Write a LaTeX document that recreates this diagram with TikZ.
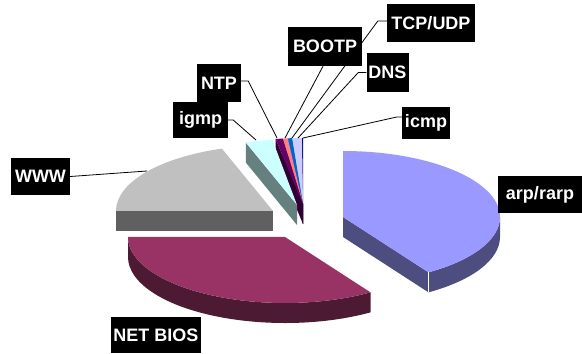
\documentclass[tikz,border=0pt]{standalone}
\usepackage{fontspec}
\setmainfont{Liberation Sans}
\usepackage{tikz}
\usetikzlibrary{positioning, calc}
\definecolor{toparp}{HTML}{9999FF}
\definecolor{sidearp}{HTML}{4D4D80}
\definecolor{topnet}{HTML}{993366}
\definecolor{sidenet}{HTML}{4D1A33}
\definecolor{topwww}{HTML}{C0C0C0}
\definecolor{sidewww}{HTML}{606060}
\definecolor{topigmp}{HTML}{CCFFFF}
\definecolor{sideigmp}{HTML}{668080}
\definecolor{topntp}{HTML}{660066}
\definecolor{sidentp}{HTML}{330033}
\definecolor{topbootp}{HTML}{FF8080}
\definecolor{sidebootp}{HTML}{804040}
\definecolor{toptcp}{HTML}{0066CC}
\definecolor{sidetcp}{HTML}{003366}
\definecolor{topdns}{HTML}{CCCCFF}
\definecolor{sidedns}{HTML}{666680}
\definecolor{topicmp}{HTML}{000080}
\definecolor{sideicmp}{HTML}{000040}

\tikzset{
  rim/.style={x radius=157, y radius=66},
  lbl/.style={fill=black, text=white, font=\bfseries\fontsize{18}{18}\selectfont,
    minimum height=38pt, inner xsep=2pt, inner ysep=0pt},
  leader/.style={draw=black, line width=0.8pt},
}

\begin{document}
\begin{tikzpicture}[x=1pt, y=1pt]
  \useasboundingbox (0,0) rectangle (582,354);
  \fill[white] (0,0) rectangle (582,354);

  %% Slice apexes
  \coordinate (arp) at (343,137);
  \coordinate (netbios) at (285,117);
  \coordinate (www) at (273,143);
  \coordinate (igmp) at (297,149);
  \coordinate (small) at (303,150);

  %% Small slices (back)
  \foreach \s/\e/\nm in {90/90.4/icmp, 90.4/94/dns, 94/95.6/tcp, 95.6/97.4/bootp, 97.4/100/ntp}{
    \fill[side\nm, shift={(small)}] (0,0) -- (\e:157 and 66) -- ++(0,-20) -- (0,-20) -- cycle;
    \fill[top\nm, shift={(small)}] (0,0) -- (\s:157 and 66) arc[start angle=\s, end angle=\e, rim] -- cycle;
  }

  %% igmp
  \fill[sideigmp, shift={(igmp)}] (0,0) -- (109:157 and 66) -- ++(0,-20) -- (0,-20) -- cycle;
  \fill[topigmp, shift={(igmp)}] (0,0) -- (99:157 and 66) arc[start angle=99, end angle=109, rim] -- cycle;

  %% WWW
  \fill[sidewww, shift={(www)}] (0,0) -- (180:157 and 66) -- ++(0,-20) -- (0,-20) -- cycle;
  \fill[topwww, shift={(www)}] (0,0) -- (109:157 and 66) arc[start angle=109, end angle=180, rim] -- cycle;

  %% arp/rarp
  \fill[sidearp, shift={(arp)}] (0,0) -- (-57:157 and 66) -- ++(0,-20) -- (0,-20) -- cycle;
  \fill[sidearp, shift={(arp)}] (-57:157 and 66) arc[start angle=-57, end angle=0, rim]
    -- ++(0,-20) arc[start angle=0, end angle=-57, rim] -- cycle;
  \fill[toparp, shift={(arp)}] (0,0) -- (-57:157 and 66) arc[start angle=-57, end angle=90, rim] -- cycle;
  \draw[white, line width=0.8pt, shift={(arp)}] (-57:157 and 66) -- ++(0,-20);

  %% NET BIOS
  \fill[sidenet, shift={(netbios)}] (180:157 and 66) arc[start angle=180, end angle=303, rim]
    -- ++(0,-20) arc[start angle=303, end angle=180, rim] -- cycle;
  \fill[topnet, shift={(netbios)}] (0,0) -- (180:157 and 66) arc[start angle=180, end angle=303, rim] -- cycle;

  %% Leader ends
  \coordinate (wwwpt) at (147,183);
  \coordinate (igmppt) at (256,214);
  \coordinate (ntppt) at (277,216);
  \coordinate (bootppt) at (285,216);
  \coordinate (tcppt) at (292,216);
  \coordinate (dnspt) at (298,216);
  \coordinate (icmppt) at (303,216);

  %% Labels
  \node[lbl, minimum width=88pt] (tcpbox) at (431,331) {TCP/UDP};
  \node[lbl, minimum width=41pt, minimum height=39pt] (dnsbox) at (387.5,281.5) {DNS};
  \node[lbl, minimum width=48pt, minimum height=32pt] (icmpbox) at (426,231) {icmp};
  \node[lbl, minimum width=44pt] (ntpbox) at (219,271) {NTP};
  \node[lbl, minimum width=55pt, minimum height=36pt] (igmpbox) at (200.5,234) {igmp};
  \node[lbl, minimum width=59pt, minimum height=37pt] (wwwbox) at (40.5,177.5) {WWW};
  \node[lbl, minimum width=84pt, minimum height=37pt] (arpbox) at (540,159.5) {arp/rarp};
  \node[lbl, minimum width=90pt, minimum height=36pt] (netbox) at (156,19) {NET BIOS};

  %% Leader lines
  \draw[leader] ([yshift=2pt]tcpbox.west) -- ++(-9,0) -- (tcppt);
  \draw[leader] (dnsbox.west) -- ++(-8,0) -- (dnspt);
  \draw[leader] ([yshift=6pt]icmpbox.west) -- ++(-5,0) -- (icmppt);
  \draw[leader] ([yshift=2pt]ntpbox.east) -- ++(7,0) -- (ntppt);
  \draw[leader] (igmpbox.east) -- ++(5,0) -- (igmppt);
  \draw[leader] (wwwbox.east) -- (wwwpt);

  %% BOOTP box hides the TCP/UDP line
  \node[lbl, minimum width=74pt, minimum height=39pt] (bootpbox) at (325,307.5) {BOOTP};
  \draw[leader] ([xshift=-2pt]bootpbox.south) -- (bootppt);

\end{tikzpicture}
\end{document}
